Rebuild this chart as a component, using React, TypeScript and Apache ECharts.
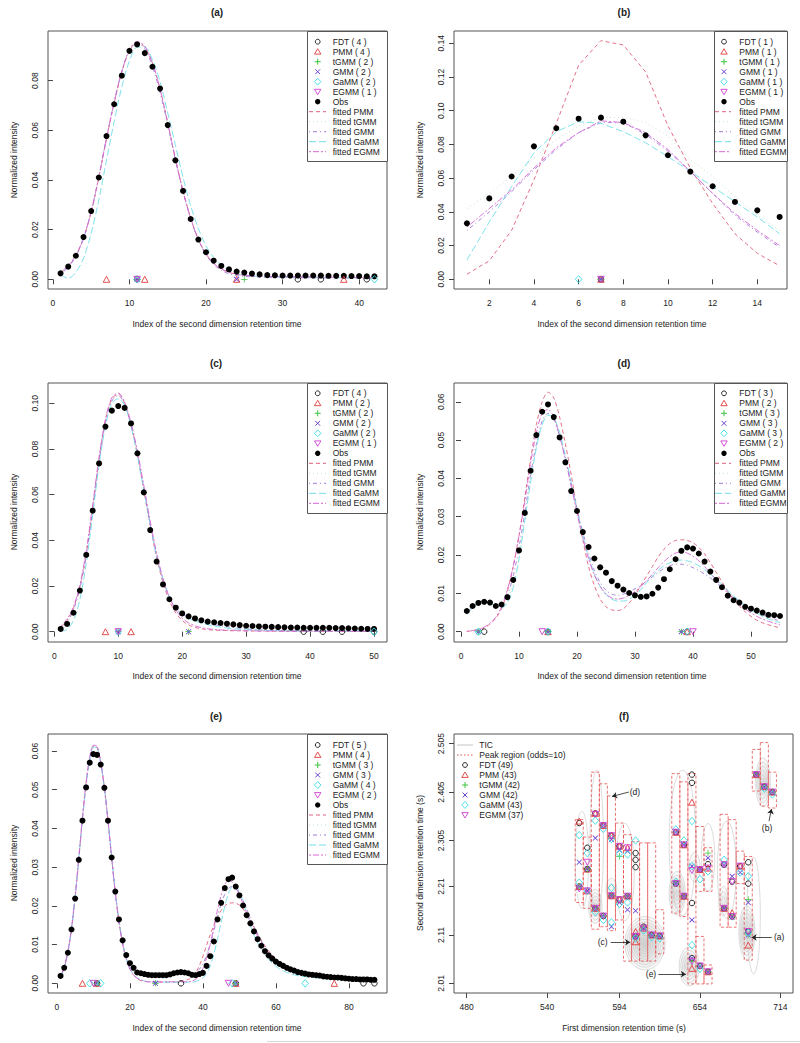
import React, { useEffect, useRef } from "react";
import * as echarts from "echarts";

const FONT = "Liberation Sans";
const MODELS = ["FDT", "PMM", "tGMM", "GMM", "GaMM", "EGMM"];
const FITS = ["PMM", "tGMM", "GMM", "GaMM", "EGMM"];

const MARK_COLOR: Record<string, string> = { FDT: "#111111", PMM: "#E23B3B", tGMM: "#3EC43E", GMM: "#6A44D0", GaMM: "#3ADCE6", EGMM: "#CF3FCF" };
const LINE_COLOR: Record<string, string> = { PMM: "#E0607A", tGMM: "#BEE2BE", GMM: "#A27AD8", GaMM: "#72DEE8", EGMM: "#D665D6" };
const LINE_DASH: Record<string, number[]> = { PMM: [4, 3], tGMM: [1, 3], GMM: [1, 3, 4, 3], GaMM: [7, 3], EGMM: [2, 2, 6, 2] };

// ---------- panel (a) ----------
const aXTicks = [0, 10, 20, 30, 40];
const aYTicks = [0, 0.02, 0.04, 0.06, 0.08];
const aObs = [0.0024,0.0051,0.0095,0.017,0.0275,0.041,0.0577,0.0705,0.082,0.092,
  0.0946,0.0911,0.0856,0.0768,0.0621,0.0479,0.0356,0.0243,0.016,0.0109,
  0.0075,0.0054,0.004,0.0031,0.0027,0.0023,0.002,0.0017,0.0016,0.0015,
  0.0015,0.0015,0.0015,0.0015,0.0015,0.0014,0.0014,0.0014,0.0013,0.0013,0.0012,0.0012];
const aPMM = [0.0028,0.0052,0.0094,0.0165,0.027,0.041,0.0565,0.071,0.0835,0.092,
  0.0955,0.0935,0.087,0.0765,0.063,0.0485,0.0355,0.0245,0.016,0.0102,
  0.0064,0.0041,0.0028,0.002,0.0016,0.0013,0.0012,0.0011,0.001,0.001,
  0.001,0.0009,0.0009,0.0009,0.0008,0.0008,0.0008,0.0007,0.0007,0.0006,0.0006,0.0006];
const aTGMM = [0.0026,0.005,0.0093,0.0166,0.0272,0.0412,0.0568,0.0712,0.0836,0.0921,
  0.0953,0.0932,0.0866,0.0761,0.0627,0.0483,0.0354,0.0244,0.0159,0.0101,
  0.0063,0.004,0.0027,0.0019,0.0015,0.0013,0.0012,0.0011,0.0011,0.001,
  0.001,0.001,0.0009,0.0009,0.0009,0.0008,0.0008,0.0008,0.0007,0.0007,0.0007,0.0006];
const aGMM = [0.0022,0.0048,0.0092,0.0165,0.0272,0.0413,0.057,0.0715,0.0838,0.0922,
  0.0952,0.0928,0.0858,0.0752,0.0622,0.0482,0.0352,0.0242,0.0158,0.0098,
  0.006,0.0036,0.0022,0.0015,0.0012,0.001,0.0009,0.0008,0.0008,0.0007,
  0.0007,0.0007,0.0006,0.0006,0.0006,0.0005,0.0005,0.0005,0.0005,0.0004,0.0004,0.0004];
const aGaMM = [0.0018,0.0004,0.0028,0.0085,0.0185,0.032,0.048,0.0635,0.0775,0.088,
  0.0935,0.0935,0.0885,0.0795,0.067,0.054,0.041,0.0295,0.0205,0.0135,
  0.0088,0.0056,0.0036,0.0023,0.0017,0.0013,0.0011,0.001,0.0009,0.0009,
  0.0008,0.0008,0.0008,0.0007,0.0007,0.0007,0.0006,0.0006,0.0006,0.0006,0.0005,0.0005];
const aEGMM = [0.003,0.0055,0.0097,0.0168,0.0273,0.0412,0.0568,0.0712,0.0838,0.0925,
  0.0958,0.0938,0.0872,0.0766,0.063,0.0486,0.0356,0.0246,0.0161,0.0103,
  0.0065,0.0042,0.0029,0.0021,0.0017,0.0014,0.0013,0.0012,0.0011,0.0011,
  0.001,0.001,0.001,0.0009,0.0009,0.0009,0.0008,0.0008,0.0008,0.0007,0.0007,0.0007];
const aMarks: Record<string, number[]> = { FDT: [11, 32, 35, 41], PMM: [7, 12, 24, 38], tGMM: [11, 25], GMM: [11, 24], GaMM: [11, 42], EGMM: [11] };
const aCounts = [4, 4, 2, 2, 2, 1];

// ---------- panel (b) ----------
const bXTicks = [2, 4, 6, 8, 10, 12, 14];
const bYTicks = [0, 0.02, 0.04, 0.06, 0.08, 0.1, 0.12, 0.14];
const bObs = [0.0332,0.048,0.061,0.0789,0.0896,0.0953,0.0959,0.0935,0.0854,0.0736,0.0639,0.0552,0.0459,0.0409,0.037];
const bPMM = [0.003,0.011,0.029,0.059,0.0925,0.127,0.1416,0.139,0.123,0.091,0.066,0.045,0.027,0.0154,0.008];
const bTGMM = [0.042,0.051,0.061,0.072,0.083,0.091,0.096,0.096,0.093,0.085,0.071,0.061,0.049,0.038,0.029];
const bGMM = [0.029,0.04,0.052,0.065,0.077,0.087,0.093,0.093,0.086,0.076,0.064,0.051,0.038,0.028,0.019];
const bGaMM = [0.0115,0.034,0.055,0.075,0.0876,0.0935,0.0925,0.0876,0.081,0.0728,0.064,0.055,0.046,0.037,0.027];
const bEGMM = [0.031,0.042,0.053,0.066,0.078,0.087,0.094,0.093,0.087,0.077,0.064,0.051,0.039,0.029,0.02];
const bMarks: Record<string, number[]> = { FDT: [7], PMM: [7], tGMM: [7], GMM: [7], GaMM: [6], EGMM: [7] };
const bCounts = [1, 1, 1, 1, 1, 1];

// ---------- panel (c) ----------
const cXTicks = [0, 10, 20, 30, 40, 50];
const cYTicks = [0, 0.02, 0.04, 0.06, 0.08, 0.1];
const cObs = [0.0012,0.0034,0.0083,0.018,0.0336,0.053,0.0737,0.0898,0.0968,0.0988,
  0.098,0.0912,0.0781,0.061,0.0445,0.0307,0.0207,0.0142,0.0105,0.008,
  0.0067,0.0058,0.005,0.0044,0.0041,0.0038,0.0035,0.0032,0.0029,0.0026,
  0.0025,0.0023,0.0022,0.0021,0.002,0.0019,0.0018,0.0018,0.0017,0.0017,
  0.0017,0.0017,0.0017,0.0016,0.0016,0.0015,0.0014,0.0013,0.0012,0.0012];
const cPMM = [0.002,0.005,0.0105,0.0195,0.034,0.054,0.0755,0.0925,0.102,0.104,
  0.1,0.0905,0.0775,0.062,0.0465,0.0325,0.0215,0.0135,0.0082,0.0049,
  0.003,0.0019,0.0013,0.0009,0.0007,0.0006,0.0005,0.0004,0.0004,0.0003,
  0.0003,0.0003,0.0003,0.0002,0.0002,0.0002,0.0002,0.0002,0.0002,0.0002,
  0.0001,0.0001,0.0001,0.0001,0.0001,0.0001,0.0001,0.0001,0.0001,0.0001];
const cTGMM = [0.0016,0.0043,0.0096,0.0191,0.0336,0.0531,0.0746,0.0916,0.1012,0.1037,
  0.0997,0.0907,0.0782,0.0627,0.0472,0.0337,0.023,0.0154,0.0106,0.0078,
  0.0063,0.0053,0.0045,0.0038,0.0032,0.0027,0.0023,0.0019,0.0016,0.0013,
  0.0011,0.0009,0.0008,0.0007,0.0006,0.0005,0.0004,0.0004,0.0003,0.0003,
  0.0003,0.0003,0.0002,0.0002,0.0002,0.0002,0.0002,0.0002,0.0002,0.0002];
const cGMM = [0.0015,0.0042,0.0095,0.019,0.0335,0.053,0.0745,0.0915,0.101,0.1035,
  0.0995,0.0905,0.078,0.0625,0.047,0.0335,0.0228,0.0152,0.0104,0.0077,
  0.0062,0.0052,0.0044,0.0037,0.0031,0.0026,0.0022,0.0018,0.0015,0.0012,
  0.001,0.0008,0.0007,0.0006,0.0005,0.0004,0.0004,0.0003,0.0003,0.0003,
  0.0002,0.0002,0.0002,0.0002,0.0002,0.0002,0.0002,0.0002,0.0002,0.0002];
const cGaMM = [0.0002,0.001,0.005,0.014,0.03,0.051,0.073,0.09,0.1,0.102,
  0.099,0.09,0.077,0.062,0.047,0.033,0.023,0.015,0.01,0.0072,
  0.0058,0.0047,0.0038,0.0031,0.0025,0.002,0.0016,0.0013,0.001,0.0008,
  0.0007,0.0006,0.0005,0.0005,0.0004,0.0004,0.0004,0.0003,0.0003,0.0003,
  0.0003,0.0003,0.0003,0.0003,0.0003,0.0003,0.0003,0.0003,0.0003,0.0003];
const cEGMM = [0.0025,0.0055,0.011,0.0205,0.0355,0.0555,0.0765,0.093,0.1025,0.1045,
  0.1005,0.0915,0.079,0.064,0.0485,0.0345,0.0232,0.015,0.0095,0.006,
  0.0039,0.0026,0.0018,0.0013,0.001,0.0008,0.0007,0.0006,0.0005,0.0004,
  0.0004,0.0003,0.0003,0.0003,0.0003,0.0002,0.0002,0.0002,0.0002,0.0002,
  0.0002,0.0002,0.0002,0.0002,0.0001,0.0001,0.0001,0.0001,0.0001,0.0001];
const cMarks: Record<string, number[]> = { FDT: [39, 42, 45, 50], PMM: [8, 12], tGMM: [10, 21], GMM: [10, 21], GaMM: [10, 50], EGMM: [10] };
const cCounts = [4, 2, 2, 2, 2, 1];

// ---------- panel (d) ----------
const dXTicks = [0, 10, 20, 30, 40, 50];
const dYTicks = [0, 0.01, 0.02, 0.03, 0.04, 0.05, 0.06];
const dObs = [0.0054,0.0067,0.0075,0.0078,0.0076,0.0067,0.0071,0.009,0.0135,0.0212,
  0.031,0.042,0.0513,0.0574,0.0593,0.056,0.0507,0.0442,0.0367,0.0315,
  0.026,0.0221,0.0191,0.0168,0.0154,0.0132,0.012,0.011,0.0101,0.0095,
  0.0091,0.0092,0.0099,0.0115,0.0137,0.0163,0.0189,0.0211,0.022,0.0217,
  0.0204,0.0183,0.0157,0.0135,0.0116,0.0094,0.0082,0.0076,0.0065,0.006,
  0.0055,0.005,0.0044,0.0043,0.0041];
const dPMM = [0.0001,0.0002,0.0005,0.001,0.002,0.0035,0.006,0.0105,0.017,0.025,
  0.035,0.045,0.054,0.06,0.0625,0.061,0.056,0.049,0.041,0.032,
  0.024,0.017,0.012,0.0085,0.0065,0.0057,0.0055,0.006,0.0075,0.0095,
  0.012,0.0145,0.017,0.0195,0.0215,0.023,0.0238,0.024,0.0238,0.0232,
  0.022,0.0203,0.018,0.0155,0.013,0.0105,0.0085,0.0067,0.0052,0.004,
  0.003,0.0023,0.0018,0.0014,0.001];
const dTGMM = [0.0048,0.0063,0.0074,0.0078,0.0075,0.0068,0.0066,0.0082,0.0125,0.02,
  0.0295,0.0395,0.0485,0.0545,0.0568,0.0558,0.0518,0.0456,0.0386,0.0318,
  0.0252,0.0196,0.0152,0.012,0.01,0.0089,0.0085,0.0086,0.009,0.0098,
  0.0109,0.0123,0.0138,0.0152,0.0164,0.0173,0.0178,0.018,0.0178,0.0173,
  0.0165,0.0155,0.0144,0.0131,0.0118,0.0105,0.0092,0.008,0.0069,0.0059,
  0.005,0.0043,0.0036,0.0031,0.0026];
const dGMM = [0.005,0.0065,0.0075,0.0078,0.0074,0.0068,0.0072,0.0095,0.0145,0.022,
  0.031,0.041,0.049,0.055,0.057,0.0555,0.051,0.045,0.0385,0.032,
  0.026,0.0205,0.016,0.0128,0.0108,0.0098,0.0095,0.0098,0.0104,0.0112,
  0.012,0.0132,0.0143,0.0155,0.0165,0.0172,0.0176,0.0176,0.0173,0.0167,
  0.016,0.015,0.014,0.0128,0.0115,0.0103,0.0091,0.008,0.007,0.006,
  0.0052,0.0045,0.0038,0.0033,0.0028];
const dGaMM = [0.0045,0.0062,0.0073,0.0077,0.0074,0.0066,0.0062,0.0075,0.0115,0.019,
  0.029,0.039,0.048,0.054,0.0565,0.0558,0.052,0.046,0.039,0.032,
  0.025,0.0195,0.015,0.0118,0.0097,0.0085,0.008,0.008,0.0085,0.0095,
  0.011,0.0128,0.0145,0.016,0.0172,0.018,0.0185,0.0187,0.0185,0.018,
  0.0172,0.0162,0.015,0.0137,0.0123,0.0108,0.0094,0.008,0.0068,0.0057,
  0.0048,0.004,0.0033,0.0028,0.0023];
const dEGMM = [0.0001,0.0003,0.0006,0.0012,0.0022,0.0038,0.0065,0.011,0.017,0.025,
  0.034,0.044,0.052,0.057,0.058,0.056,0.051,0.045,0.038,0.031,
  0.0245,0.019,0.0148,0.0118,0.0098,0.0088,0.0085,0.0088,0.0095,0.0105,
  0.0118,0.0133,0.015,0.0167,0.0183,0.0196,0.0205,0.0208,0.0205,0.0197,
  0.0185,0.017,0.0153,0.0135,0.0117,0.01,0.0085,0.0071,0.0059,0.0049,
  0.004,0.0033,0.0027,0.0022,0.0018];
const dMarks: Record<string, number[]> = { FDT: [4, 15, 39], PMM: [15, 39], tGMM: [3, 15, 38], GMM: [3, 15, 38], GaMM: [3, 15, 39], EGMM: [14, 40] };
const dCounts = [3, 2, 3, 3, 3, 2];

// ---------- panel (e) ----------
const eXTicks = [0, 20, 40, 60, 80];
const eYTicks = [0, 0.01, 0.02, 0.03, 0.04, 0.05, 0.06];
const eObs = [0.0019,0.004,0.0079,0.0139,0.0219,0.0319,0.042,0.0506,0.057,0.0592,
  0.059,0.0565,0.0505,0.042,0.0325,0.0237,0.0165,0.0111,0.0073,0.0052,
  0.004,0.0028,0.0026,0.0024,0.0022,0.0021,0.0021,0.0021,0.0021,0.0021,
  0.0023,0.0026,0.0028,0.0029,0.0028,0.0026,0.0022,0.0021,0.0024,0.0027,
  0.0045,0.007,0.0108,0.0165,0.0208,0.0246,0.0269,0.0273,0.025,0.0227,
  0.0201,0.0176,0.0155,0.0134,0.0114,0.0097,0.0083,0.0072,0.0064,0.0056,
  0.005,0.0045,0.004,0.0036,0.0033,0.0029,0.0027,0.0025,0.0023,0.0022,
  0.0021,0.002,0.0018,0.0017,0.0016,0.0015,0.0015,0.0014,0.0013,0.0012,
  0.0011,0.0011,0.001,0.001,0.001,0.0009,0.0009];
const ePMM = [0.0015,0.004,0.008,0.014,0.0222,0.032,0.0425,0.0515,0.058,0.0612,
  0.061,0.057,0.0505,0.042,0.0325,0.0235,0.016,0.0104,0.0064,0.0038,
  0.0022,0.0012,0.0007,0.0005,0.0004,0.0003,0.0003,0.0003,0.0003,0.0003,
  0.0003,0.0003,0.0004,0.0005,0.0007,0.001,0.0016,0.0027,0.0045,0.007,
  0.0098,0.0125,0.015,0.0172,0.0188,0.02,0.0206,0.0208,0.0207,0.0202,
  0.0192,0.0178,0.0162,0.0145,0.0128,0.0112,0.0097,0.0084,0.0073,0.0063,
  0.0055,0.0048,0.0042,0.0037,0.0033,0.003,0.0027,0.0024,0.0022,0.002,
  0.0018,0.0017,0.0016,0.0015,0.0014,0.0013,0.0012,0.0011,0.0011,0.001,
  0.001,0.0009,0.0009,0.0008,0.0008,0.0008,0.0007];
const eTGMM = [0.0018,0.0041,0.008,0.014,0.0221,0.032,0.0423,0.0513,0.0578,0.0611,
  0.061,0.0571,0.0507,0.0422,0.0327,0.0237,0.0162,0.0106,0.0067,0.0043,
  0.003,0.0025,0.0023,0.0022,0.0022,0.0022,0.0023,0.0024,0.0025,0.0026,
  0.0027,0.0028,0.0028,0.0028,0.0027,0.0026,0.0027,0.003,0.0038,0.0052,
  0.0074,0.0103,0.0137,0.0173,0.0206,0.0231,0.0246,0.0251,0.0247,0.0234,
  0.0215,0.0193,0.017,0.0148,0.0128,0.011,0.0094,0.008,0.0069,0.0059,
  0.0051,0.0045,0.004,0.0036,0.0032,0.0029,0.0026,0.0024,0.0022,0.002,
  0.0019,0.0017,0.0016,0.0015,0.0014,0.0013,0.0013,0.0012,0.0011,0.0011,
  0.001,0.001,0.0009,0.0009,0.0009,0.0008,0.0008];
const eGMM = [0.0017,0.0041,0.0081,0.0141,0.0222,0.0321,0.0424,0.0514,0.0578,0.061,
  0.0609,0.057,0.0506,0.0421,0.0326,0.0236,0.0161,0.0105,0.0066,0.0041,
  0.0028,0.0023,0.0022,0.0022,0.0022,0.0023,0.0024,0.0024,0.0024,0.0024,
  0.0024,0.0024,0.0024,0.0024,0.0023,0.0023,0.0024,0.0028,0.0036,0.005,
  0.0072,0.0101,0.0135,0.0172,0.0205,0.023,0.0245,0.025,0.0246,0.0233,
  0.0214,0.0192,0.0169,0.0147,0.0127,0.0109,0.0093,0.0079,0.0068,0.0058,
  0.005,0.0044,0.0039,0.0035,0.0031,0.0028,0.0025,0.0023,0.0021,0.0019,
  0.0018,0.0016,0.0015,0.0014,0.0013,0.0012,0.0012,0.0011,0.001,0.001,
  0.0009,0.0009,0.0008,0.0008,0.0008,0.0007,0.0007];
const eGaMM = [0.0012,0.0038,0.0079,0.0141,0.0223,0.0322,0.0426,0.0515,0.0578,0.061,
  0.0608,0.0568,0.0504,0.042,0.0326,0.0237,0.0162,0.0105,0.0065,0.0039,
  0.0023,0.0014,0.0009,0.0006,0.0004,0.0003,0.0003,0.0003,0.0003,0.0003,
  0.0003,0.0003,0.0003,0.0003,0.0003,0.0003,0.0003,0.0005,0.0008,0.0014,
  0.0025,0.0045,0.0075,0.0115,0.0158,0.0199,0.0232,0.0249,0.025,0.0236,
  0.0211,0.0181,0.015,0.0124,0.0105,0.0088,0.0074,0.0062,0.0052,0.0044,
  0.0037,0.0032,0.0028,0.0025,0.0022,0.002,0.0018,0.0017,0.0016,0.0015,
  0.0014,0.0013,0.0012,0.0011,0.0011,0.001,0.0009,0.0009,0.0008,0.0008,
  0.0008,0.0007,0.0007,0.0007,0.0006,0.0006,0.0006];
const eEGMM = [0.0018,0.0042,0.0082,0.0143,0.0225,0.0325,0.043,0.052,0.0585,0.0615,
  0.0612,0.0572,0.0506,0.042,0.0324,0.0233,0.0158,0.0101,0.0062,0.0036,
  0.0021,0.0013,0.0009,0.0006,0.0004,0.0004,0.0004,0.0004,0.0004,0.0004,
  0.0004,0.0004,0.0004,0.0004,0.0004,0.0004,0.0006,0.001,0.002,0.0038,
  0.0065,0.01,0.0145,0.019,0.0228,0.0255,0.0266,0.0262,0.0248,0.0228,
  0.0205,0.0182,0.016,0.014,0.0122,0.0106,0.0092,0.008,0.007,0.0061,
  0.0054,0.0047,0.0042,0.0037,0.0033,0.003,0.0027,0.0024,0.0022,0.002,
  0.0018,0.0017,0.0015,0.0014,0.0013,0.0012,0.0011,0.001,0.001,0.0009,
  0.0009,0.0008,0.0008,0.0007,0.0007,0.0007,0.0006];
const eMarks: Record<string, number[]> = { FDT: [11, 34, 49, 84, 87], PMM: [7, 11, 49, 76], tGMM: [11, 27, 49], GMM: [11, 27, 49], GaMM: [9, 12, 48, 68], EGMM: [10, 47] };
const eCounts = [5, 4, 3, 3, 4, 2];

// ---------- panel (f) ----------
const fXTicks = [480, 540, 594, 654, 714];
const fYTicks = [2.01, 2.11, 2.21, 2.305, 2.405, 2.505];
const fCounts = [49, 43, 42, 42, 43, 37];
// TIC contour blobs: [centre x, centre y, half width, half height, rings]
const fTIC = [
  [613, 2.093, 15, 0.055, 10], [646, 2.045, 7.5, 0.04, 6], [689, 2.115, 6, 0.055, 7],
  [576, 2.169, 5, 0.035, 5], [637, 2.196, 6, 0.045, 6], [701, 2.425, 5.5, 0.05, 6],
  [671.5, 2.18, 3.5, 0.03, 3], [588, 2.205, 4, 0.022, 2], [650, 2.25, 4, 0.03, 2],
  [566, 2.265, 5, 0.1, 1], [577, 2.3, 5, 0.15, 1], [641, 2.3, 10, 0.15, 1],
  [674, 2.245, 7, 0.1, 1], [598, 2.24, 7, 0.1, 1], [660, 2.27, 5, 0.07, 1], [694, 2.15, 5, 0.12, 1],
];
// Peak regions: [x0, x1, y0, y1]
const fRegions = [
  [561, 567, 2.177, 2.348], [567, 573, 2.165, 2.312], [573, 579, 2.122, 2.446], [579, 585, 2.127, 2.422],
  [585, 591, 2.119, 2.397], [591, 597, 2.141, 2.341], [597, 603, 2.056, 2.317], [603, 609, 2.056, 2.303],
  [609, 615, 2.056, 2.3], [615, 621, 2.056, 2.3], [621, 627, 2.071, 2.162], [633, 639, 2.155, 2.443],
  [639, 645, 2.148, 2.426], [645, 651, 2.009, 2.443], [651, 657, 2.2, 2.334], [651, 657, 2.009, 2.107],
  [657, 663, 2.2, 2.29], [657, 663, 2.009, 2.048], [669, 675, 2.126, 2.359], [675, 681, 2.126, 2.348],
  [681, 687, 2.216, 2.283], [687, 693, 2.058, 2.272], [693, 699, 2.407, 2.493], [699, 705, 2.376, 2.507],
  [705, 711, 2.372, 2.446],
];
const fFDT = [[564,2.341],[570,2.29],[576,2.361],[606,2.279],[606,2.265],[606,2.25],[612,2.127],[648,2.441],[648,2.424],[648,2.176],[648,2.062],[660,2.256],[678,2.22],[690,2.26],[690,2.216],[696,2.441],[702,2.416],[708,2.405],[654,2.245],[642,2.296],[636,2.322],[672,2.255],[684,2.252],[576,2.165],[582,2.336],[588,2.315],[594,2.293],[564,2.21],[570,2.246],[618,2.11],[624,2.108],[606,2.107],[582,2.149],[588,2.191],[594,2.183],[600,2.19],[636,2.216],[642,2.19],[654,2.046],[660,2.034],[672,2.165],[678,2.148],[690,2.117]];
const fPMM = [[564,2.345],[564,2.21],[570,2.246],[570,2.201],[576,2.361],[576,2.165],[582,2.336],[588,2.315],[588,2.191],[600,2.29],[600,2.19],[606,2.117],[606,2.096],[612,2.124],[618,2.11],[624,2.108],[636,2.322],[642,2.19],[648,2.384],[648,2.041],[654,2.245],[660,2.034],[672,2.165],[678,2.156],[684,2.252],[690,2.089],[696,2.441],[702,2.416],[708,2.405],[642,2.296],[660,2.248],[594,2.293],[594,2.183]];
const fTGMM = [[564,2.21],[570,2.246],[576,2.165],[582,2.149],[594,2.272],[606,2.107],[612,2.124],[618,2.11],[624,2.108],[636,2.216],[642,2.19],[648,2.055],[654,2.046],[660,2.279],[660,2.034],[672,2.165],[678,2.147],[690,2.183],[690,2.11],[696,2.441],[702,2.416],[708,2.405],[588,2.191],[600,2.19]];
const fGMM = [[564,2.26],[564,2.21],[570,2.246],[570,2.201],[576,2.31],[576,2.165],[582,2.336],[582,2.149],[588,2.307],[588,2.191],[588,2.127],[594,2.285],[594,2.177],[600,2.283],[600,2.19],[600,2.162],[606,2.16],[606,2.107],[612,2.124],[618,2.11],[624,2.108],[636,2.322],[636,2.216],[642,2.296],[642,2.19],[648,2.252],[648,2.141],[648,2.062],[654,2.245],[654,2.046],[660,2.269],[660,2.034],[672,2.255],[672,2.165],[678,2.231],[678,2.147],[684,2.239],[690,2.177],[690,2.11],[696,2.441],[702,2.416],[708,2.405]];
const fGaMM = [[564,2.316],[564,2.218],[570,2.279],[570,2.201],[576,2.346],[576,2.157],[582,2.329],[582,2.141],[588,2.308],[588,2.207],[588,2.136],[594,2.278],[594,2.174],[600,2.276],[600,2.177],[606,2.305],[606,2.103],[612,2.119],[618,2.105],[624,2.103],[636,2.328],[636,2.22],[642,2.305],[648,2.345],[648,2.252],[648,2.089],[654,2.225],[654,2.04],[660,2.241],[672,2.265],[684,2.239],[690,2.231],[690,2.115],[702,2.412],[708,2.4]];
const fEGMM = [[564,2.205],[570,2.26],[570,2.201],[576,2.359],[576,2.165],[582,2.336],[582,2.149],[588,2.315],[588,2.191],[594,2.293],[594,2.183],[600,2.29],[600,2.19],[606,2.107],[612,2.124],[618,2.11],[624,2.108],[636,2.322],[636,2.216],[642,2.296],[642,2.19],[648,2.243],[648,2.055],[654,2.245],[654,2.046],[660,2.248],[660,2.034],[672,2.255],[672,2.165],[678,2.22],[678,2.148],[684,2.252],[690,2.117],[696,2.441],[702,2.416],[708,2.405]];
const fArrows = [[601, 2.405, 588.5, 2.396], [705.5, 2.345, 707.3, 2.37], [587.5, 2.095, 602, 2.095], [623, 2.029, 643.5, 2.029], [707.5, 2.105, 692.5, 2.105]];
const fLabelPos = [[605.5, 2.406], [704, 2.331], [581.5, 2.095], [617.5, 2.029], [713, 2.105]];
const fLabelNames = ["(d)", "(b)", "(c)", "(e)", "(a)"];

const PLUS = "path://M0,4.4H10V5.6H0Z M4.4,0H5.6V10H4.4Z";

function sym(m: string) {
  const open = (c: string) => ({ color: "rgba(0,0,0,0)", borderColor: c, borderWidth: 0.9, opacity: 1 });
  switch (m) {
    case "FDT": return { symbol: "circle", symbolSize: 5.5, itemStyle: open(MARK_COLOR.FDT) };
    case "PMM": return { symbol: "triangle", symbolSize: [6.5, 6], itemStyle: open(MARK_COLOR.PMM) };
    case "tGMM": return { symbol: PLUS, symbolSize: 6.5, itemStyle: { color: MARK_COLOR.tGMM, opacity: 1 } };
    case "GMM": return { symbol: PLUS, symbolSize: 7, symbolRotate: 45, itemStyle: { color: MARK_COLOR.GMM, opacity: 1 } };
    case "GaMM": return { symbol: "diamond", symbolSize: [6.5, 7.5], itemStyle: open(MARK_COLOR.GaMM) };
    default: return { symbol: "triangle", symbolRotate: 180, symbolSize: [6.5, 6], itemStyle: open(MARK_COLOR.EGMM) };
  }
}

function txt(x: number, y: number, text: string, opts: any = {}) {
  return {
    type: "text", x, y, z: 101, rotation: opts.rotation || 0,
    style: {
      text, fill: opts.fill || "#222", fontSize: opts.size || 8.5, fontFamily: FONT,
      fontWeight: opts.bold ? "bold" : "normal", align: opts.align || "left", verticalAlign: "middle",
    },
  };
}

function markerEls(m: string, cx: number, cy: number): any[] {
  const c = MARK_COLOR[m];
  const st = { fill: "none", stroke: c, lineWidth: 0.9 };
  switch (m) {
    case "FDT": return [{ type: "circle", z: 101, shape: { cx, cy, r: 2.4 }, style: st }];
    case "PMM": return [{ type: "polygon", z: 101, shape: { points: [[cx, cy - 3], [cx + 3.2, cy + 2.4], [cx - 3.2, cy + 2.4]] }, style: st }];
    case "tGMM": return [
      { type: "line", z: 101, shape: { x1: cx - 3, y1: cy, x2: cx + 3, y2: cy }, style: { stroke: c, lineWidth: 1 } },
      { type: "line", z: 101, shape: { x1: cx, y1: cy - 3, x2: cx, y2: cy + 3 }, style: { stroke: c, lineWidth: 1 } }];
    case "GMM": return [
      { type: "line", z: 101, shape: { x1: cx - 2.4, y1: cy - 2.4, x2: cx + 2.4, y2: cy + 2.4 }, style: { stroke: c, lineWidth: 1 } },
      { type: "line", z: 101, shape: { x1: cx - 2.4, y1: cy + 2.4, x2: cx + 2.4, y2: cy - 2.4 }, style: { stroke: c, lineWidth: 1 } }];
    case "GaMM": return [{ type: "polygon", z: 101, shape: { points: [[cx, cy - 3.4], [cx + 3.2, cy], [cx, cy + 3.4], [cx - 3.2, cy]] }, style: st }];
    default: return [{ type: "polygon", z: 101, shape: { points: [[cx, cy + 3], [cx + 3.2, cy - 2.4], [cx - 3.2, cy - 2.4]] }, style: st }];
  }
}

function legendEls(L: any, counts: number[]) {
  const els: any[] = [];
  els.push({ type: "rect", z: 100, shape: { x: L.x0 + 0.5, y: L.y0 + 0.5, width: L.x1 - L.x0, height: L.y1 - L.y0 }, style: { fill: "#fff", stroke: "#555", lineWidth: 1 } });
  MODELS.forEach((m, k) => {
    const cy = L.row0 + 10 * k;
    els.push(...markerEls(m, L.symX, cy));
    els.push(txt(L.textX, cy, `${m} ( ${counts[k]} )`));
  });
  const oy = L.row0 + 60;
  els.push({ type: "circle", z: 101, shape: { cx: L.symX, cy: oy, r: 2.7 }, style: { fill: "#000" } });
  els.push(txt(L.textX, oy, "Obs"));
  FITS.forEach((m, k) => {
    const cy = L.row0 + 70 + 10 * k;
    els.push({ type: "line", z: 101, shape: { x1: L.segX0, y1: cy, x2: L.segX1, y2: cy }, style: { stroke: LINE_COLOR[m], lineWidth: 1, lineDash: LINE_DASH[m] } });
    els.push(txt(L.textX, cy, "fitted " + m));
  });
  return els;
}

const fmt2 = (v: number) => v.toFixed(2);
const fmtInt = (v: number) => String(Math.round(v));
const fmtRaw = (v: number) => String(v);

const panels = [
  { t: "(a)", box: [48, 31, 387, 289], xr: [-0.64, 43.64], yr: [-0.0039, 0.1], xt: aXTicks, yt: aYTicks, obs: aObs,
    fits: { PMM: aPMM, tGMM: aTGMM, GMM: aGMM, GaMM: aGaMM, EGMM: aEGMM }, marks: aMarks, counts: aCounts, smooth: 0.3,
    leg: { x0: 307, x1: 387, y0: 31, y1: 161, symX: 317.7, segX0: 309, segX1: 326, textX: 332.7, row0: 41.7 },
    title: [217, 12], xlab: [217, 324], ylab: [14, 160] },
  { t: "(b)", box: [454, 31, 787, 289], xr: [0.42, 15.33], yr: [-0.00575, 0.1473], xt: bXTicks, yt: bYTicks, obs: bObs,
    fits: { PMM: bPMM, tGMM: bTGMM, GMM: bGMM, GaMM: bGaMM, EGMM: bEGMM }, marks: bMarks, counts: bCounts, smooth: false,
    leg: { x0: 714, x1: 787, y0: 31, y1: 161, symX: 724, segX0: 715, segX1: 731, textX: 739.3, row0: 41.7 },
    title: [624, 12], xlab: [622, 324], ylab: [420, 160] },
  { t: "(c)", box: [48, 383, 387, 642], xr: [-0.985, 52.03], yr: [-0.00451, 0.1089], xt: cXTicks, yt: cYTicks, obs: cObs,
    fits: { PMM: cPMM, tGMM: cTGMM, GMM: cGMM, GaMM: cGaMM, EGMM: cEGMM }, marks: cMarks, counts: cCounts, smooth: 0.3,
    leg: { x0: 307, x1: 387, y0: 383, y1: 513, symX: 317.7, segX0: 309, segX1: 326, textX: 332.7, row0: 393.3 },
    title: [216, 363], xlab: [217, 676], ylab: [14, 512] },
  { t: "(d)", box: [454, 383, 787, 642], xr: [-1.207, 56.21], yr: [-0.00269, 0.0649], xt: dXTicks, yt: dYTicks, obs: dObs,
    fits: { PMM: dPMM, tGMM: dTGMM, GMM: dGMM, GaMM: dGaMM, EGMM: dEGMM }, marks: dMarks, counts: dCounts, smooth: 0.3,
    leg: { x0: 714, x1: 787, y0: 383, y1: 513, symX: 724, segX0: 715, segX1: 731, textX: 739.3, row0: 393.3 },
    title: [624, 363], xlab: [622, 676], ylab: [420, 512] },
  { t: "(e)", box: [48, 734, 387, 993], xr: [-2.44, 90.44], yr: [-0.0025, 0.0644], xt: eXTicks, yt: eYTicks, obs: eObs,
    fits: { PMM: ePMM, tGMM: eTGMM, GMM: eGMM, GaMM: eGaMM, EGMM: eEGMM }, marks: eMarks, counts: eCounts, smooth: 0.3,
    leg: { x0: 307, x1: 387, y0: 734, y1: 864, symX: 317.7, segX0: 309, segX1: 326, textX: 332.7, row0: 745 },
    title: [216, 716], xlab: [217, 1028], ylab: [14, 863] },
];

function axisCfg(i: number, range: number[], ticks: number[], fmt: any, isY: boolean) {
  return {
    type: "value", gridIndex: i, min: range[0], max: range[1],
    splitLine: { show: false }, axisLine: { show: false },
    axisTick: { show: true, inside: false, length: 5, lineStyle: { color: "#444", width: 1 }, customValues: ticks },
    axisLabel: { show: true, customValues: ticks, formatter: fmt, color: "#222", fontSize: 8.5, fontFamily: FONT, margin: 9, rotate: isY ? 90 : 0 },
  };
}

function buildOption() {
  const grid: any[] = [], xAxis: any[] = [], yAxis: any[] = [], series: any[] = [], graphic: any[] = [];
  panels.forEach((p, i) => {
    grid.push({ left: p.box[0], top: p.box[1], width: p.box[2] - p.box[0], height: p.box[3] - p.box[1], show: true, borderColor: "#555", borderWidth: 1, backgroundColor: "rgba(0,0,0,0)" });
    xAxis.push(axisCfg(i, p.xr, p.xt, fmtInt, false));
    yAxis.push(axisCfg(i, p.yr, p.yt, fmt2, true));
    FITS.forEach((m) => {
      const arr: number[] = (p.fits as any)[m];
      series.push({ type: "line", xAxisIndex: i, yAxisIndex: i, data: arr.map((v, k) => [k + 1, v]), showSymbol: false, symbol: "none",
        smooth: p.smooth, silent: true, z: 2, lineStyle: { color: LINE_COLOR[m], width: 0.9, type: LINE_DASH[m] } });
    });
    series.push({ type: "scatter", xAxisIndex: i, yAxisIndex: i, data: p.obs.map((v, k) => [k + 1, v]), symbol: "circle", symbolSize: 6, itemStyle: { color: "#000", opacity: 1 }, z: 3, silent: true });
    MODELS.forEach((m) => {
      series.push({ type: "scatter", xAxisIndex: i, yAxisIndex: i, data: (p.marks as any)[m].map((x: number) => [x, 0]), ...sym(m), z: 4, silent: true });
    });
    graphic.push(...legendEls(p.leg, p.counts));
    graphic.push(txt(p.title[0], p.title[1], p.t, { bold: true, size: 10, align: "center" }));
    graphic.push(txt(p.xlab[0], p.xlab[1], "Index of the second dimension retention time", { align: "center" }));
    graphic.push(txt(p.ylab[0], p.ylab[1], "Normalized intensity", { align: "center", rotation: Math.PI / 2 }));
  });

  // panel (f)
  const fi = 5;
  grid.push({ left: 454, top: 734, width: 339, height: 259, show: true, borderColor: "#555", borderWidth: 1, backgroundColor: "rgba(0,0,0,0)" });
  xAxis.push(axisCfg(fi, [470.64, 723.36], fXTicks, fmtInt, false));
  yAxis.push(axisCfg(fi, [1.9902, 2.5248], fYTicks, fmtRaw, true));
  series.push({
    type: "custom", xAxisIndex: fi, yAxisIndex: fi, data: fTIC, z: 1, silent: true,
    renderItem: (params: any, api: any) => {
      const c = api.coord([api.value(0), api.value(1)]);
      const s = api.size([api.value(2), api.value(3)]);
      const n = api.value(4);
      const children: any[] = [];
      for (let k = n; k >= 1; k--) {
        children.push({ type: "ellipse", shape: { cx: c[0], cy: c[1], rx: (s[0] * k) / n, ry: (s[1] * k) / n },
          style: { fill: n > 1 ? "rgba(150,150,150,0.045)" : "none", stroke: "#c4c4c4", lineWidth: 0.6 } });
      }
      return { type: "group", children };
    },
  });
  series.push({
    type: "custom", xAxisIndex: fi, yAxisIndex: fi, data: fRegions, z: 2, silent: true,
    renderItem: (params: any, api: any) => {
      const p0 = api.coord([api.value(0), api.value(3)]);
      const p1 = api.coord([api.value(1), api.value(2)]);
      return { type: "rect", shape: { x: p0[0], y: p0[1], width: p1[0] - p0[0], height: p1[1] - p0[1] },
        style: { fill: "none", stroke: "#E55050", lineWidth: 0.8, lineDash: [3, 2] } };
    },
  });
  const fData: Record<string, number[][]> = { FDT: fFDT, PMM: fPMM, tGMM: fTGMM, GMM: fGMM, GaMM: fGaMM, EGMM: fEGMM };
  MODELS.forEach((m) => {
    series.push({ type: "scatter", xAxisIndex: fi, yAxisIndex: fi, data: fData[m], ...sym(m), z: 4, silent: true });
  });
  series.push({
    type: "lines", coordinateSystem: "cartesian2d", xAxisIndex: fi, yAxisIndex: fi, z: 5, silent: true,
    symbol: ["none", "arrow"], symbolSize: 5, lineStyle: { color: "#222", width: 0.8, opacity: 1, curveness: 0 },
    data: fArrows.map((a) => ({ coords: [[a[0], a[1]], [a[2], a[3]]] })),
  });
  series.push({
    type: "custom", xAxisIndex: fi, yAxisIndex: fi, data: fLabelPos, z: 5, silent: true,
    renderItem: (params: any, api: any) => {
      const p = api.coord([api.value(0), api.value(1)]);
      return { type: "text", x: p[0], y: p[1], style: { text: fLabelNames[params.dataIndex], fill: "#222", fontSize: 8.5, fontFamily: FONT, align: "center", verticalAlign: "middle" } };
    },
  });
  // (f) legend (no box)
  graphic.push({ type: "line", z: 101, shape: { x1: 457, y1: 745, x2: 473, y2: 745 }, style: { stroke: "#c4c4c4", lineWidth: 1 } });
  graphic.push(txt(479.3, 745, "TIC"));
  graphic.push({ type: "line", z: 101, shape: { x1: 457, y1: 755, x2: 473, y2: 755 }, style: { stroke: "#E55050", lineWidth: 1, lineDash: [1.5, 2] } });
  graphic.push(txt(479.3, 755, "Peak region (odds=10)"));
  MODELS.forEach((m, k) => {
    const cy = 765 + 10 * k;
    graphic.push(...markerEls(m, 465, cy));
    graphic.push(txt(479.3, cy, `${m} (${fCounts[k]})`));
  });
  graphic.push(txt(624, 716, "(f)", { bold: true, size: 10, align: "center" }));
  graphic.push(txt(624, 1028, "First dimension retention time (s)", { align: "center" }));
  graphic.push(txt(420, 863, "Second dimension retention time (s)", { align: "center", rotation: Math.PI / 2 }));
  graphic.push({ type: "line", z: 101, shape: { x1: 267, y1: 1041.5, x2: 800, y2: 1041.5 }, style: { stroke: "#d6d6d6", lineWidth: 1 } });

  return { animation: false, backgroundColor: "#ffffff", textStyle: { fontFamily: FONT }, grid, xAxis, yAxis, series, graphic };
}

export default function App() {
  const ref = useRef<HTMLDivElement>(null);
  useEffect(() => {
    if (!ref.current) return;
    const chart = echarts.init(ref.current, null, { renderer: "svg" });
    chart.setOption(buildOption() as any);
    return () => chart.dispose();
  }, []);
  return <div ref={ref} style={{ position: "absolute", left: 0, top: 0, width: 800, height: 1043, background: "#fff" }} />;
}
